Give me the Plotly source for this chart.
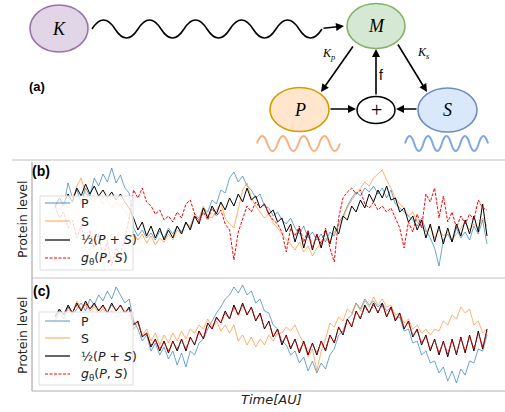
import plotly.graph_objects as go

W, H = 505, 412

# ---------------- data ----------------
time = list(range(100))

b_P = [70, 78, 72, 95, 80, 88, 75, 90, 82, 100,
       92, 104, 96, 110, 95, 103, 90, 85, 50, 42,
       48, 40, 45, 38, 47, 40, 50, 44, 52, 46,
       55, 50, 62, 58, 70, 66, 78, 74, 88, 85,
       100, 106, 96, 102, 92, 88, 80, 84, 72, 70,
       62, 66, 58, 54, 60, 50, 44, 52, 40, 46,
       38, 44, 36, 46, 42, 55, 62, 72, 80, 86,
       82, 90, 86, 92, 84, 90, 80, 88, 74, 70,
       66, 62, 58, 52, 60, 48, 40, 30, 12, 38,
       44, 36, 50, 40, 46, 38, 52, 44, 58, 34]
b_S = [72, 68, 75, 70, 78, 92, 100, 85, 80, 76,
       82, 74, 78, 70, 76, 72, 68, 60, 45, 38,
       44, 35, 42, 33, 40, 36, 44, 38, 48, 44,
       55, 52, 64, 60, 72, 62, 60, 68, 75, 60,
       54, 50, 70, 88, 95, 80, 72, 66, 60, 64,
       55, 50, 44, 38, 34, 28, 36, 26, 32, 22,
       30, 34, 40, 36, 46, 52, 60, 70, 78, 84,
       90, 96, 92, 100, 104, 108, 98, 90, 80, 74,
       70, 62, 66, 56, 52, 46, 52, 40, 48, 42,
       46, 38, 44, 50, 56, 48, 54, 50, 60, 52]
b_mean = [72, 80, 74, 84, 76, 90, 82, 94, 84, 92,
          82, 88, 80, 86, 78, 84, 76, 70, 60, 48,
          56, 42, 52, 40, 50, 38, 48, 40, 52, 44,
          56, 48, 62, 54, 70, 60, 72, 64, 76, 68,
          80, 72, 84, 76, 90, 78, 82, 70, 74, 64,
          68, 56, 60, 46, 54, 36, 50, 30, 46, 28,
          44, 30, 48, 34, 52, 44, 62, 58, 72, 66,
          78, 70, 84, 76, 88, 80, 92, 78, 80, 66,
          70, 56, 62, 48, 58, 40, 54, 36, 52, 34,
          50, 36, 54, 42, 58, 44, 62, 46, 74, 42]
b_g = [72, 60, 66, 50, 58, 40, 52, 36, 48, 30,
       44, 20, 38, 12, 30, 24, 40, 60, 88, 80,
       90, 76, 72, 64, 68, 58, 62, 56, 66, 60,
       74, 78, 64, 56, 66, 58, 70, 62, 68, 54,
       48, 18, 46, 60, 72, 66, 76, 70, 74, 64,
       58, 54, 46, 26, 50, 42, 52, 36, 48, 30,
       44, 34, 50, 30, 16, 60, 80, 86, 90, 84,
       88, 74, 70, 76, 68, 72, 66, 70, 60, 50,
       30, 56, 46, 64, 50, 84, 76, 90, 60, 82,
       56, 66, 50, 62, 54, 64, 58, 78, 70, 68]

c_P = [70, 78, 72, 84, 76, 82, 88, 80, 92, 86,
       96, 90, 100, 92, 104, 96, 88, 92, 70, 62,
       50, 56, 40, 48, 36, 44, 32, 40, 26, 38,
       24, 40, 36, 48, 52, 62, 70, 78, 84, 92,
       96, 104, 98, 106, 96, 100, 88, 92, 80, 78,
       66, 62, 50, 46, 36, 40, 28, 34, 20, 30,
       18, 28, 22, 36, 42, 56, 60, 72, 76, 88,
       82, 92, 86, 90, 84, 88, 80, 84, 72, 74,
       60, 62, 48, 50, 36, 40, 28, 30, 18, 24,
       10, 20, 8, 22, 16, 30, 28, 42, 40, 56]
c_S = [72, 80, 76, 84, 78, 90, 82, 86, 80, 84,
       78, 82, 76, 80, 74, 78, 72, 76, 62, 68,
       56, 62, 50, 58, 46, 56, 48, 58, 50, 60,
       52, 62, 58, 66, 62, 72, 64, 70, 60, 66,
       58, 66, 50, 56, 46, 54, 44, 52, 46, 56,
       50, 58, 58, 64, 60, 66, 56, 48, 34, 42,
       20, 40, 52, 68, 64, 74, 70, 82, 78, 88,
       80, 90, 84, 94, 86, 92, 84, 86, 76, 78,
       68, 72, 62, 66, 58, 62, 56, 62, 60, 70,
       66, 76, 72, 84, 78, 82, 66, 70, 58, 62]
c_mean = [74, 82, 76, 86, 78, 88, 80, 90, 82, 88,
          80, 86, 78, 88, 80, 86, 78, 84, 66, 70,
          54, 58, 44, 52, 40, 50, 38, 50, 40, 52,
          40, 54, 46, 60, 52, 68, 62, 74, 68, 80,
          72, 86, 76, 88, 76, 84, 70, 78, 62, 70,
          54, 62, 46, 56, 42, 52, 38, 50, 36, 48,
          36, 50, 40, 56, 48, 64, 56, 72, 64, 80,
          72, 86, 78, 88, 78, 88, 74, 84, 70, 78,
          62, 70, 54, 62, 46, 56, 40, 52, 36, 50,
          34, 52, 36, 54, 38, 56, 40, 60, 42, 62]
c_g = [76, 80, 77, 84, 79, 86, 81, 88, 82, 86,
       81, 85, 79, 86, 81, 85, 79, 82, 67, 69,
       55, 57, 46, 51, 42, 49, 40, 49, 42, 51,
       42, 53, 47, 59, 53, 67, 62, 73, 68, 78,
       72, 84, 76, 86, 77, 83, 71, 77, 63, 69,
       55, 61, 48, 55, 44, 51, 40, 49, 38, 47,
       38, 49, 42, 55, 49, 63, 57, 71, 65, 79,
       73, 84, 78, 86, 79, 86, 75, 83, 71, 77,
       63, 69, 55, 61, 48, 55, 42, 51, 38, 49,
       37, 51, 38, 53, 40, 55, 42, 58, 44, 60]

series_names = ["P", "S", "½(<i>P</i> + <i>S</i>)", "<i>g</i><sub>θ</sub>(<i>P</i>, <i>S</i>)"]

# ---------------- helpers (pixel -> paper) ----------------
def X(px):
    return px / W

def Y(py):
    return 1 - py / H

fig = go.Figure()

styles = [
    dict(color="rgba(31,119,180,0.65)", width=1),
    dict(color="rgba(255,127,14,0.6)", width=1),
    dict(color="black", width=1),
    dict(color="#ff0000", width=1, dash="3px,1.5px"),
]

for xa, ya, data in [("x", "y", [b_P, b_S, b_mean, b_g]),
                     ("x2", "y2", [c_P, c_S, c_mean, c_g])]:
    for name, vals, st in zip(series_names, data, styles):
        fig.add_trace(go.Scatter(x=time, y=vals, mode="lines", name=name,
                                 line=st, xaxis=xa, yaxis=ya, showlegend=False,
                                 hoverinfo="skip"))

# x range: index 0 at px 55, index 99 at px 487, domain 32..505
s = 99 / (487 - 55)
xr = [-(55 - 32) * s, 99 + (505 - 487) * s]

ax_common = dict(showgrid=False, zeroline=False, showticklabels=False,
                 ticks="", showline=False, fixedrange=True)

fig.update_layout(
    width=W, height=H,
    margin=dict(l=0, r=0, t=0, b=0),
    paper_bgcolor="white", plot_bgcolor="rgba(0,0,0,0)",
    font=dict(family="DejaVu Sans", size=12, color="#222"),
    xaxis=dict(domain=[X(32), 1], range=xr, anchor="y", **ax_common),
    yaxis=dict(domain=[Y(278), Y(162)], range=[0, 116], anchor="x", **ax_common),
    xaxis2=dict(domain=[X(32), 1], range=xr, anchor="y2", **ax_common),
    yaxis2=dict(domain=[Y(391), Y(278)], range=[0, 113], anchor="x2", **ax_common),
    showlegend=False,
)

shapes = []
annotations = []

def line(x0, y0, x1, y1, color, width=1, dash="solid"):
    shapes.append(dict(type="line", xref="paper", yref="paper",
                       x0=X(x0), y0=Y(y0), x1=X(x1), y1=Y(y1),
                       line=dict(color=color, width=width, dash=dash), layer="above"))

def text(x, y, t, size, family="Liberation Serif", color="black", angle=0, xanchor="center"):
    annotations.append(dict(xref="paper", yref="paper", x=X(x), y=Y(y), text=t,
                            showarrow=False, textangle=angle, xanchor=xanchor, yanchor="middle",
                            font=dict(family=family, size=size, color=color)))

# panel frames
line(12, 160, 505, 160, "#bdbdbd", 1.2)
line(32, 162, 32, 278, "#9a9a9a", 1)
line(32, 278, 505, 278, "#c4c4c4", 1.2)
line(32, 278, 32, 391, "#9a9a9a", 1)
line(32, 391, 505, 391, "#b0b0b0", 1.2)

# ---------------- legends (drawn as boxes + samples) ----------------
def legend_box(x0, y0, x1, y1, rows):
    shapes.append(dict(type="rect", xref="paper", yref="paper",
                       x0=X(x0), x1=X(x1), y0=Y(y1), y1=Y(y0),
                       fillcolor="rgba(255,255,255,0.8)",
                       line=dict(color="#dddddd", width=1), layer="above"))
    for name, st, yy in zip(series_names, styles, rows):
        line(45, yy, 70, yy, st["color"], 1.2, st.get("dash", "solid"))
        text(79, yy, name, 12.5, family="DejaVu Sans", color="#222", xanchor="left")

legend_box(40, 196, 133, 270, [203, 221, 240, 258])
legend_box(39, 312, 133, 385, [321, 338, 356, 374])

# ---------------- diagram ----------------
def ellipse(cx, cy, rx, ry, fill, stroke, w=1.6):
    shapes.append(dict(type="circle", xref="paper", yref="paper",
                       x0=X(cx - rx), x1=X(cx + rx), y0=Y(cy + ry), y1=Y(cy - ry),
                       fillcolor=fill, line=dict(color=stroke, width=w), layer="above"))

ellipse(59, 28.5, 29, 23.5, "#e1d5e7", "#9673a6")
ellipse(376, 26, 29, 22.5, "#d5e8d4", "#82b366")
ellipse(299.5, 109.5, 29.5, 22, "#ffe6cc", "#d79b00")
ellipse(447.5, 110, 29.5, 22, "#dae8fc", "#6c8ebf")
ellipse(376, 110, 19, 13.5, "white", "black", 1.5)

def wave(x0, x1, yc, amp, n_half, color, width):
    h = (x1 - x0) / n_half
    d = f"M {X(x0)},{Y(yc)} Q {X(x0 + h / 2)},{Y(yc - 2 * amp)} {X(x0 + h)},{Y(yc)}"
    for k in range(2, n_half + 1):
        d += f" T {X(x0 + k * h)},{Y(yc)}"
    shapes.append(dict(type="path", xref="paper", yref="paper", path=d,
                       line=dict(color=color, width=width), layer="above"))

wave(92, 322, 29, 9, 10, "black", 1.6)
wave(257, 340, 143.5, 7.5, 8, "#f4b183", 2)
wave(405, 488, 143.5, 7.5, 9, "#7ea6e0", 2)

def arrow(x0, y0, x1, y1):
    annotations.append(dict(xref="paper", yref="paper", x=X(x1), y=Y(y1),
                            ax=x0 - x1, ay=y0 - y1, axref="pixel", ayref="pixel",
                            text="", showarrow=True, arrowhead=2, arrowsize=1,
                            arrowwidth=1.6, arrowcolor="black", standoff=0, startstandoff=0))

arrow(322, 28.5, 344, 26)
arrow(354, 45, 321, 92)
arrow(397, 43, 427, 92)
arrow(376, 96, 376, 49)
arrow(329, 109, 356, 109)
arrow(418, 109, 396, 109)

text(59, 29, "<i>K</i>", 18)
text(376, 26, "<i>M</i>", 18)
text(299.5, 110, "<i>P</i>", 18)
text(447.5, 110, "<i>S</i>", 18)
text(376, 110, "+", 20)
text(328, 54, "<i>K<sub>p</sub></i>", 12)
text(423, 53, "<i>K<sub>s</sub></i>", 12)
text(381, 75, "f", 14, family="Liberation Sans")
text(37, 86, "<b>(a)</b>", 13, family="Liberation Sans")
text(41, 171, "<b>(b)</b>", 14, family="Liberation Sans")
text(41, 291, "<b>(c)</b>", 14, family="Liberation Sans")
text(22, 219, "Protein level", 12.5, family="DejaVu Sans", color="#222", angle=-90)
text(22, 335, "Protein level", 12.5, family="DejaVu Sans", color="#222", angle=-90)
text(271, 399, "<i>Time[AU]</i>", 13, family="DejaVu Sans", color="#222")

fig.update_layout(shapes=shapes, annotations=annotations)
fig.write_html("out.html", config={"displayModeBar": False},
               post_script="document.body.style.margin='0';document.body.style.overflow='hidden';")
